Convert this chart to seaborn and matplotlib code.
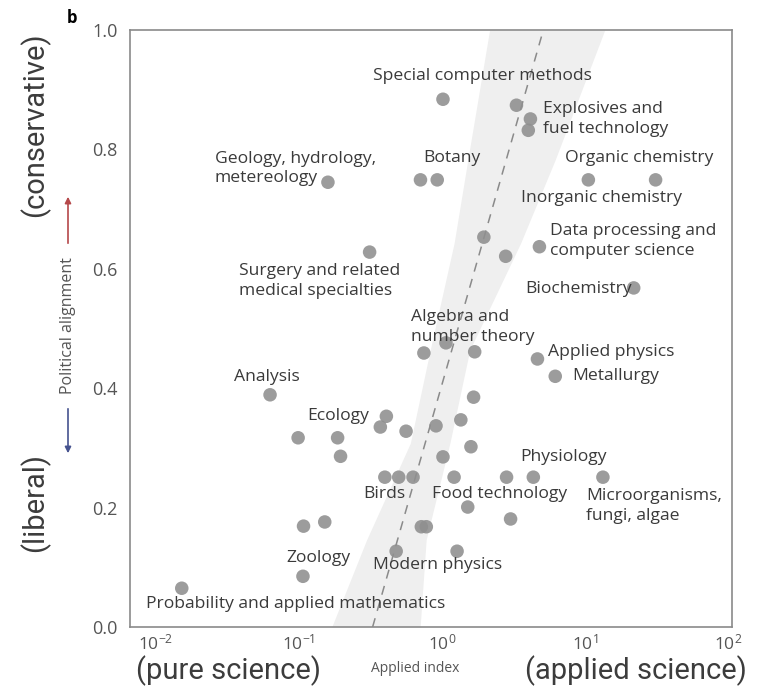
import numpy as np
import pandas as pd
import matplotlib
matplotlib.use("Agg")
import matplotlib.pyplot as plt
import seaborn as sns

# Points (applied index on log axis, political alignment)
applied_index = [0.0152, 0.107, 0.108, 0.152, 0.063, 0.099, 0.187, 0.196,
                 0.41, 0.372, 0.563, 0.912, 1.36, 1.67, 1.60, 1.02,
                 0.40, 0.50, 0.63, 1.22, 1.52, 0.72, 0.78, 0.48, 1.28,
                 0.75, 1.70, 1.07, 1.02, 3.33, 4.17, 4.03, 0.71, 0.93,
                 10.6, 31.3, 1.97, 2.80, 4.82, 22.0, 0.16, 0.313,
                 4.67, 6.22, 2.84, 4.37, 13.4, 3.03]
alignment = [0.065, 0.085, 0.169, 0.176, 0.389, 0.317, 0.317, 0.286,
             0.353, 0.335, 0.328, 0.337, 0.347, 0.385, 0.302, 0.285,
             0.251, 0.251, 0.251, 0.251, 0.201, 0.168, 0.168, 0.127, 0.127,
             0.459, 0.461, 0.476, 0.884, 0.874, 0.851, 0.832, 0.749, 0.749,
             0.749, 0.749, 0.653, 0.621, 0.637, 0.568, 0.745, 0.628,
             0.449, 0.420, 0.251, 0.251, 0.251, 0.181]

# fitted line: alignment = intercept + slope * log10(applied index)
fit_intercept = 0.405
fit_slope = 0.8375

# shaded band edges (applied index) at several alignment levels
band_alignment = [0.0, 0.146, 0.308, 0.464, 0.643, 0.782, 1.0]
band_low = [0.170, 0.298, 0.603, 0.83, 1.22, 1.52, 2.16]
band_high = [0.706, 0.778, 1.14, 1.57, 3.56, 6.2, 13.8]

field_names = ["Special computer methods", "Explosives and\nfuel technology",
               "Geology, hydrology,\nmetereology", "Botany", "Organic chemistry",
               "Inorganic chemistry", "Data processing and\ncomputer science",
               "Surgery and related\nmedical specialties", "Biochemistry",
               "Algebra and\nnumber theory", "Applied physics", "Metallurgy",
               "Analysis", "Ecology", "Physiology", "Birds", "Food technology",
               "Microorganisms,\nfungi, algae", "Zoology", "Modern physics",
               "Probability and applied mathematics"]

df = pd.DataFrame({"applied": applied_index, "alignment": alignment})

sns.set_theme(style="white")
plt.rcParams["font.family"] = ["Open Sans", "DejaVu Sans"]
plt.rcParams["mathtext.fontset"] = "custom"
plt.rcParams["mathtext.rm"] = "Open Sans"
plt.rcParams["mathtext.it"] = "Open Sans:italic"

fig = plt.figure(figsize=(7.63, 6.88), dpi=100)
ax = fig.add_axes([0.1704, 0.0886, 0.789, 0.8678])
ax.set_xscale("log")
ax.set_xlim(10 ** -2.18, 10 ** 2.03)
ax.set_ylim(0, 1.0)

# band and fitted line
ax.fill_betweenx(band_alignment, band_low, band_high, color="#efefef", lw=0, zorder=1)
line_y = np.array([0.0, 1.0])
line_x = 10 ** ((line_y - fit_intercept) / fit_slope)
sns.lineplot(x=line_x, y=line_y, ax=ax, color="#8a8a8a", lw=1.1,
             linestyle=(0, (6, 5)), zorder=2)

sns.scatterplot(data=df, x="applied", y="alignment", ax=ax, s=95,
                color="#8f8f8f", alpha=0.88, edgecolor="none", zorder=3)

# label placement (data coords, left aligned, vertically centred)
label_pos = [(0.333, 0.923), (5.13, 0.851), (0.0258, 0.768), (0.741, 0.786),
             (7.29, 0.786), (3.56, 0.719), (5.74, 0.647), (0.0385, 0.580),
             (3.85, 0.566), (0.612, 0.503), (5.55, 0.461), (8.14, 0.420),
             (0.035, 0.419), (0.114, 0.353), (3.56, 0.285), (0.284, 0.223),
             (0.857, 0.223), (10.2, 0.203), (0.0817, 0.116), (0.333, 0.104),
             (0.00857, 0.0385)]
for name, (lx, ly) in zip(field_names, label_pos):
    ax.text(lx, ly, name, ha="left", va="center", fontsize=12.6,
            color="#3a3a3a", linespacing=1.3, zorder=4)

ax.set_yticks([0, 0.2, 0.4, 0.6, 0.8, 1.0])
ax.set_yticklabels(["0.0", "0.2", "0.4", "0.6", "0.8", "1.0"])
ax.set_xticks([1e-2, 1e-1, 1e0, 1e1, 1e2])
ax.xaxis.set_minor_locator(matplotlib.ticker.NullLocator())
ax.tick_params(axis="y", direction="in", length=6, width=1, colors="#888888",
               labelcolor="#555555", labelsize=13, pad=9)
ax.tick_params(axis="x", direction="in", length=6, width=1, colors="#888888",
               labelcolor="#555555", labelsize=12.5, pad=5)
for sp in ax.spines.values():
    sp.set_color("#8a8a8a")
    sp.set_linewidth(1.2)
ax.set_xlabel("")
ax.set_ylabel("")

# axis titles
fig.text(415 / 763, 1 - 668 / 688, "Applied index", ha="center", va="center",
         fontsize=10, color="#555555")
fig.text(68 / 763, 1 - 326 / 688, "Political alignment", ha="center", va="center",
         rotation=90, fontsize=11.5, color="#555555")
fig.add_artist(matplotlib.patches.FancyArrowPatch(
    (68 / 763, 1 - 246 / 688), (68 / 763, 1 - 194 / 688), transform=fig.transFigure,
    arrowstyle="-|>", mutation_scale=9, color="#b5484a", lw=1.2))
fig.add_artist(matplotlib.patches.FancyArrowPatch(
    (68 / 763, 1 - 406 / 688), (68 / 763, 1 - 456 / 688), transform=fig.transFigure,
    arrowstyle="-|>", mutation_scale=9, color="#46538f", lw=1.2))

fig.text(72 / 763, 1 - 18 / 688, "b", ha="center", va="center", fontsize=12,
         fontweight="bold", color="black")

# big overlay annotations
big = dict(family=["Roboto", "DejaVu Sans"], fontsize=21, color="#3c3c3c")
fig.text(35 / 763, 1 - 125 / 688, "(conservative)", rotation=90, ha="center",
         va="center", **big)
fig.text(35 / 763, 1 - 502 / 688, "(liberal)", rotation=90, ha="center",
         va="center", **big)
fig.text(228 / 763, 1 - 671 / 688, "(pure science)", ha="center", va="center", **big)
fig.text(636 / 763, 1 - 671 / 688, "(applied science)", ha="center", va="center", **big)

fig.savefig("out.png", dpi=100)
